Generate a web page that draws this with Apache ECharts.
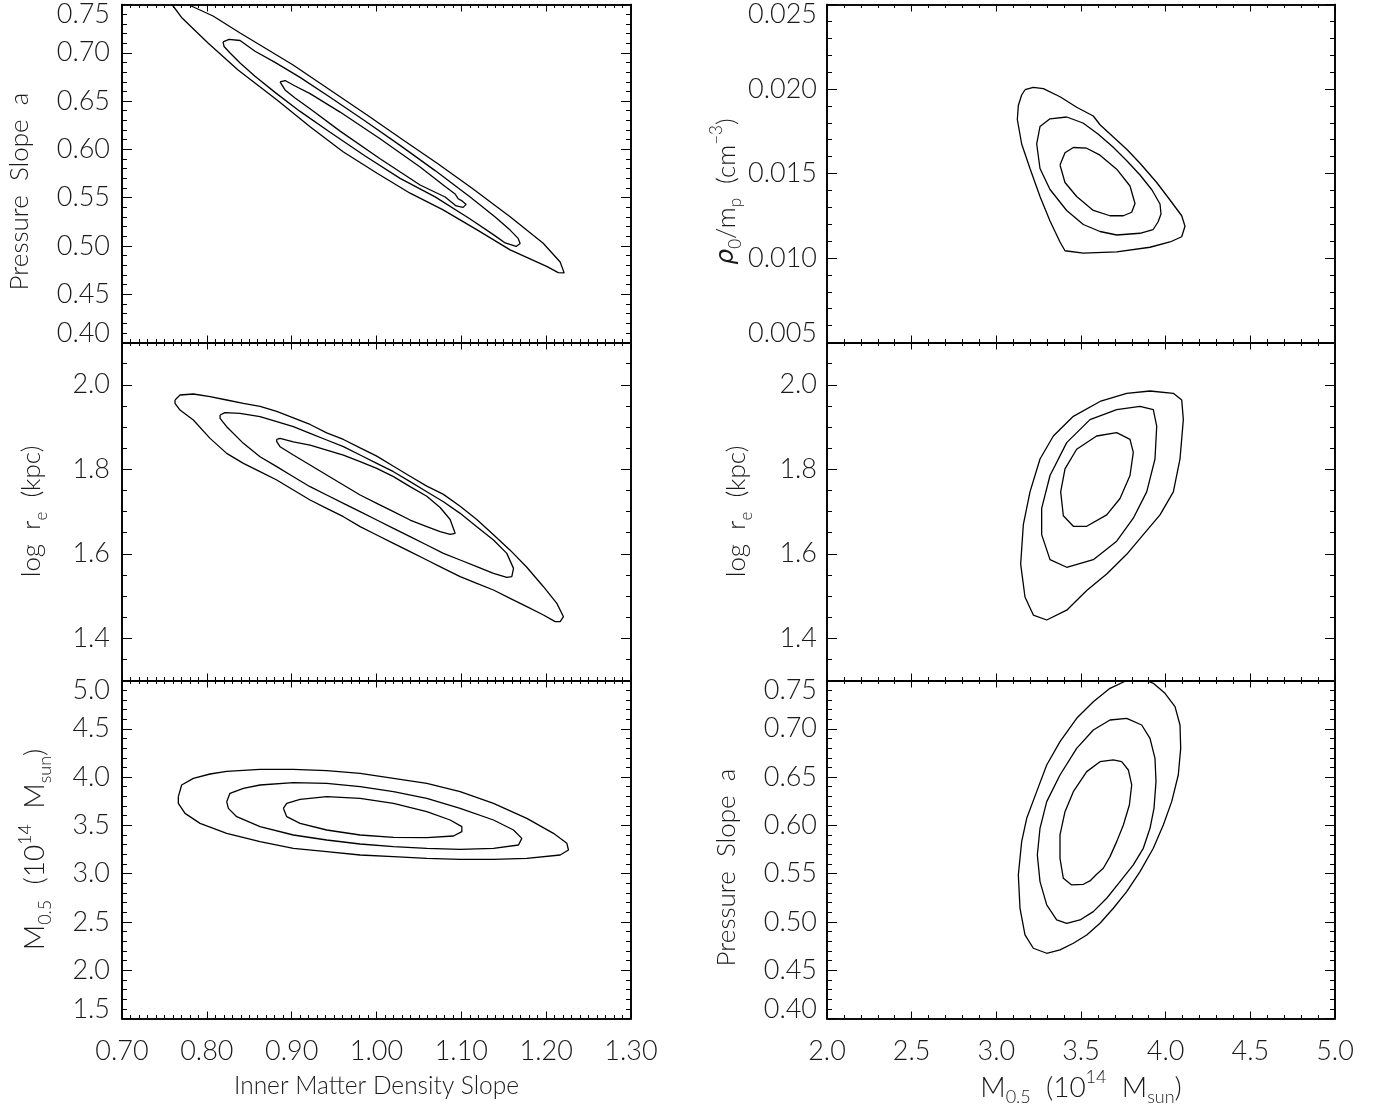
<!DOCTYPE html>
<html>
<head>
<meta charset="utf-8">
<title>Parameter contours</title>
<script src="https://cdn.jsdelivr.net/npm/echarts@6/dist/echarts.min.js"></script>
<style>
html, body { margin: 0; padding: 0; background: #fff; }
#chart { width: 1377px; height: 1110px; }
</style>
</head>
<body>
<div id="chart"></div>
<script>
var chart = echarts.init(document.getElementById('chart'));

/* tick values */
var slopeTicks = [0.70, 0.80, 0.90, 1.00, 1.10, 1.20, 1.30];
var massTicks = [2.0, 2.5, 3.0, 3.5, 4.0, 4.5, 5.0];
var alphaTicks = [0.40, 0.45, 0.50, 0.55, 0.60, 0.65, 0.70, 0.75];
var logReTicks = [1.4, 1.6, 1.8, 2.0];
var massYTicks = [1.5, 2.0, 2.5, 3.0, 3.5, 4.0, 4.5, 5.0];
var rhoTicks = [0.005, 0.010, 0.015, 0.020, 0.025];

/* contours, [x, y] */
// inner slope vs pressure slope
var slopeAlphaOut = [[0.7590,0.7500],[0.7708,0.7360],[0.8014,0.7101],[0.8368,0.6822],[0.8828,0.6511],[0.9217,0.6235],[0.9606,0.5976],[1.0007,0.5753],[1.0396,0.5546],[1.0785,0.5373],[1.1186,0.5166],[1.1575,0.4959],[1.2012,0.4786],[1.2142,0.4724],[1.2212,0.4721],[1.2165,0.4834],[1.1965,0.5028],[1.1575,0.5303],[1.1127,0.5597],[1.0715,0.5856],[1.0314,0.6097],[0.9889,0.6356],[0.9453,0.6615],[0.9017,0.6874],[0.8627,0.7081],[0.8392,0.7205],[0.8073,0.7381],[0.7778,0.7500]];
var slopeAlphaMid = [[0.8191,0.7112],[0.8262,0.7138],[0.8392,0.7127],[0.8568,0.7016],[0.8804,0.6901],[0.9099,0.6745],[0.9453,0.6539],[0.9866,0.6293],[1.0278,0.6041],[1.0691,0.5780],[1.1104,0.5507],[1.1399,0.5300],[1.1575,0.5164],[1.1670,0.5078],[1.1693,0.5026],[1.1646,0.4995],[1.1517,0.5031],[1.1399,0.5104],[1.1104,0.5279],[1.0691,0.5508],[1.0278,0.5700],[0.9866,0.5931],[0.9453,0.6177],[0.9099,0.6393],[0.8804,0.6590],[0.8568,0.6757],[0.8392,0.6894],[0.8274,0.6998],[0.8203,0.7065]];
var slopeAlphaIn = [[0.8863,0.6698],[0.8922,0.6713],[0.9040,0.6656],[0.9217,0.6577],[0.9571,0.6386],[1.0042,0.6110],[1.0514,0.5818],[1.0809,0.5616],[1.0927,0.5538],[1.0962,0.5489],[1.1009,0.5466],[1.1057,0.5430],[1.1021,0.5399],[1.0939,0.5414],[1.0809,0.5507],[1.0514,0.5631],[1.0042,0.5903],[0.9571,0.6189],[0.9217,0.6421],[0.9040,0.6532],[0.8922,0.6615]];

// inner slope vs log re
var slopeReOut = [[0.7625,1.9639],[0.7684,1.9757],[0.7841,1.9781],[0.8038,1.9718],[0.8234,1.9639],[0.8431,1.9560],[0.8627,1.9490],[0.8824,1.9370],[0.9020,1.9215],[0.9217,1.9060],[0.9413,1.8860],[0.9610,1.8705],[0.9807,1.8505],[1.0003,1.8310],[1.0200,1.8070],[1.0396,1.7835],[1.0593,1.7600],[1.0789,1.7405],[1.0986,1.7125],[1.1182,1.6810],[1.1379,1.6450],[1.1575,1.6085],[1.1772,1.5680],[1.1968,1.5220],[1.2126,1.4826],[1.2204,1.4510],[1.2165,1.4392],[1.2106,1.4392],[1.1968,1.4550],[1.1772,1.4747],[1.1575,1.4944],[1.1379,1.5142],[1.1182,1.5299],[1.0986,1.5457],[1.0789,1.5655],[1.0593,1.5852],[1.0396,1.6049],[1.0200,1.6246],[1.0003,1.6443],[0.9807,1.6641],[0.9610,1.6877],[0.9413,1.7075],[0.9217,1.7272],[0.9020,1.7509],[0.8824,1.7745],[0.8627,1.7942],[0.8431,1.8140],[0.8234,1.8376],[0.8038,1.8731],[0.7841,1.9165],[0.7684,1.9402],[0.7625,1.9560]];
var slopeReMid = [[0.8156,1.9284],[0.8214,1.9339],[0.8391,1.9323],[0.8627,1.9244],[0.8824,1.9126],[0.9020,1.9007],[0.9217,1.8850],[0.9413,1.8692],[0.9610,1.8534],[0.9807,1.8337],[1.0003,1.8140],[1.0200,1.7942],[1.0396,1.7706],[1.0593,1.7469],[1.0789,1.7232],[1.0986,1.6956],[1.1182,1.6641],[1.1379,1.6325],[1.1536,1.6009],[1.1615,1.5654],[1.1595,1.5457],[1.1536,1.5441],[1.1379,1.5536],[1.1182,1.5694],[1.0986,1.5852],[1.0789,1.6009],[1.0593,1.6207],[1.0396,1.6404],[1.0200,1.6601],[1.0003,1.6798],[0.9807,1.6996],[0.9610,1.7193],[0.9413,1.7390],[0.9217,1.7587],[0.9020,1.7824],[0.8824,1.8061],[0.8627,1.8297],[0.8431,1.8613],[0.8234,1.9007],[0.8156,1.9205]];
var slopeReIn = [[0.8824,1.8708],[0.8863,1.8730],[0.9020,1.8650],[0.9217,1.8570],[0.9413,1.8455],[0.9610,1.8335],[0.9807,1.8180],[1.0003,1.8020],[1.0200,1.7825],[1.0396,1.7590],[1.0593,1.7360],[1.0750,1.7095],[1.0868,1.6810],[1.0927,1.6483],[1.0868,1.6459],[1.0750,1.6522],[1.0593,1.6641],[1.0396,1.6798],[1.0200,1.6996],[1.0003,1.7193],[0.9807,1.7390],[0.9610,1.7627],[0.9413,1.7863],[0.9217,1.8100],[0.9020,1.8337],[0.8863,1.8534],[0.8824,1.8652]];

// inner slope vs mass
var slopeMassOut = [[0.7664,3.7970],[0.7703,3.9179],[0.7841,3.9869],[0.8038,4.0318],[0.8234,4.0594],[0.8627,4.0801],[0.9020,4.0801],[0.9413,4.0663],[0.9807,4.0387],[1.0200,3.9869],[1.0593,3.9351],[1.0986,3.8488],[1.1379,3.7280],[1.1772,3.5727],[1.2086,3.4173],[1.2244,3.3138],[1.2263,3.2447],[1.2165,3.1930],[1.1772,3.1584],[1.1379,3.1481],[1.0986,3.1481],[1.0593,3.1584],[1.0200,3.1757],[0.9807,3.1930],[0.9413,3.2275],[0.9020,3.2620],[0.8627,3.3310],[0.8234,3.4173],[0.7920,3.5209],[0.7743,3.6244],[0.7664,3.7280]];
var slopeMassMid = [[0.8234,3.7453],[0.8273,3.8316],[0.8431,3.8833],[0.8627,3.9179],[0.9020,3.9420],[0.9413,3.9351],[0.9807,3.9006],[1.0200,3.8488],[1.0593,3.7798],[1.0986,3.6762],[1.1379,3.5554],[1.1615,3.4519],[1.1713,3.3656],[1.1674,3.2965],[1.1379,3.2620],[1.0986,3.2516],[1.0593,3.2620],[1.0200,3.2793],[0.9807,3.3069],[0.9413,3.3483],[0.9020,3.4001],[0.8627,3.4864],[0.8352,3.5899],[0.8254,3.6762]];
var slopeMassIn = [[0.8902,3.6762],[0.8942,3.7280],[0.9099,3.7694],[0.9413,3.7970],[0.9807,3.7798],[1.0200,3.7280],[1.0593,3.6417],[1.0868,3.5554],[1.1006,3.4864],[1.1006,3.4346],[1.0907,3.3897],[1.0593,3.3725],[1.0200,3.3759],[0.9807,3.4001],[0.9413,3.4519],[0.9099,3.5209],[0.8942,3.5899]];

// mass vs rho0
var massRhoOut = [[3.1693,0.019956],[3.2185,0.020100],[3.2776,0.020020],[3.3760,0.019541],[3.4744,0.018920],[3.5727,0.018402],[3.6122,0.017885],[3.6909,0.017160],[3.7699,0.016435],[3.8485,0.015607],[3.9471,0.014467],[4.0256,0.013432],[4.0947,0.012500],[4.1142,0.011879],[4.0947,0.011257],[4.0256,0.010947],[3.9075,0.010636],[3.7108,0.010367],[3.5136,0.010284],[3.4055,0.010429],[3.3760,0.010947],[3.3170,0.012189],[3.2579,0.013639],[3.1988,0.015296],[3.1496,0.016746],[3.1240,0.018195],[3.1299,0.019024],[3.1496,0.019645]];
var massRhoMid = [[3.4156,0.018343],[3.5118,0.017988],[3.6004,0.017337],[3.6890,0.016568],[3.7717,0.015740],[3.8485,0.014911],[3.9193,0.014024],[3.9666,0.013195],[3.9725,0.012604],[3.9547,0.012130],[3.9252,0.011672],[3.8485,0.011464],[3.7108,0.011361],[3.6122,0.011568],[3.5136,0.011982],[3.4155,0.012811],[3.3170,0.014053],[3.2579,0.015296],[3.2384,0.016746],[3.2579,0.017781],[3.3170,0.018237]];
var massRhoIn = [[3.3760,0.015503],[3.4055,0.016228],[3.4547,0.016538],[3.5337,0.016497],[3.6122,0.016083],[3.7108,0.015255],[3.7894,0.014260],[3.8189,0.013225],[3.7994,0.012707],[3.7498,0.012500],[3.6713,0.012500],[3.5727,0.012811],[3.4744,0.013639],[3.4055,0.014467]];

// mass vs log re
var massReOut = [[3.6122,1.9604],[3.7699,1.9798],[3.9075,1.9852],[4.0453,1.9798],[4.0947,1.9641],[4.1043,1.9175],[4.0847,1.8243],[4.0453,1.7464],[3.9665,1.6920],[3.8679,1.6453],[3.7699,1.5987],[3.6518,1.5521],[3.5337,1.5130],[3.4155,1.4664],[3.2975,1.4432],[3.2185,1.4548],[3.1693,1.4976],[3.1437,1.5753],[3.1594,1.6688],[3.1988,1.7464],[3.2579,1.8243],[3.3367,1.8787],[3.4547,1.9253]];
var massReMid = [[3.7108,1.9410],[3.8485,1.9488],[3.9270,1.9410],[3.9471,1.9019],[3.9370,1.8243],[3.8880,1.7464],[3.8089,1.6841],[3.7108,1.6297],[3.5727,1.5860],[3.4155,1.5680],[3.3170,1.5860],[3.2677,1.6453],[3.2677,1.7076],[3.3170,1.7852],[3.4155,1.8631],[3.5530,1.9175]];
var massReIn = [[3.7108,1.8865],[3.7894,1.8709],[3.8089,1.8399],[3.7894,1.7852],[3.7304,1.7308],[3.6518,1.6920],[3.5337,1.6650],[3.4547,1.6650],[3.3957,1.6900],[3.3800,1.7464],[3.4055,1.8008],[3.4744,1.8474],[3.5924,1.8787]];

// mass vs pressure slope
var massAlphaOut = [[3.7699,0.7500],[3.6713,0.74189],[3.5727,0.72808],[3.4744,0.71083],[3.3760,0.68668],[3.2975,0.66252],[3.2382,0.63492],[3.1794,0.60731],[3.1496,0.58316],[3.1299,0.54865],[3.1398,0.51414],[3.1693,0.48654],[3.2185,0.47273],[3.2975,0.46756],[3.3760,0.47101],[3.4547,0.47791],[3.5337,0.48654],[3.6122,0.49861],[3.6909,0.51414],[3.7699,0.53139],[3.8485,0.55210],[3.9270,0.57625],[3.9860,0.60041],[4.0356,0.62456],[4.0745,0.65217],[4.0887,0.67977],[4.0847,0.70393],[4.0552,0.72291],[3.9961,0.73671],[3.9270,0.74706],[3.8880,0.7500]];
var massAlphaMid = [[3.7699,0.71083],[3.6713,0.70910],[3.5727,0.69875],[3.4744,0.67977],[3.3760,0.65217],[3.2975,0.62456],[3.2579,0.59696],[3.2421,0.56936],[3.2579,0.54175],[3.2975,0.51760],[3.3563,0.50207],[3.4155,0.49861],[3.4941,0.50207],[3.5727,0.51069],[3.6518,0.52450],[3.7304,0.54175],[3.8089,0.55900],[3.8679,0.57625],[3.9075,0.59696],[3.9311,0.61766],[3.9429,0.64527],[3.9370,0.66942],[3.9075,0.69012],[3.8584,0.70393]];
var massAlphaIn = [[3.6909,0.66770],[3.6122,0.66597],[3.5337,0.65562],[3.4547,0.63492],[3.4055,0.61421],[3.3760,0.59006],[3.3760,0.56591],[3.3957,0.54520],[3.4449,0.53830],[3.5136,0.53899],[3.5530,0.54244],[3.5924,0.54934],[3.6318,0.55555],[3.6713,0.56763],[3.7108,0.58316],[3.7502,0.60041],[3.7856,0.62111],[3.7994,0.64182],[3.7797,0.65735],[3.7403,0.66597]];

var FONT = 'Lato';
var TXT = '#1a1a1a';
function richSet(size) {
    var small = Math.round(size * 0.64);
    return {
        n: { fontFamily: FONT, fontWeight: 300, fontSize: size, color: TXT, lineHeight: size + 10, verticalAlign: 'middle' },
        sub: { fontFamily: FONT, fontWeight: 300, fontSize: small, color: TXT, lineHeight: small, verticalAlign: 'bottom' },
        sup: { fontFamily: FONT, fontWeight: 300, fontSize: small, color: TXT, lineHeight: small, verticalAlign: 'top' },
        g: { fontFamily: 'DejaVu Sans', fontStyle: 'italic', fontSize: size - 1, color: TXT, lineHeight: size + 10, verticalAlign: 'middle' }
    };
}
var labelRich = {
    hi: { fontFamily: FONT, fontWeight: 300, fontSize: 27, color: TXT, padding: [20, 0, 0, 0] },
    lo: { fontFamily: FONT, fontWeight: 300, fontSize: 27, color: TXT, padding: [0, 0, 18, 0] }
};

var nameAlpha = '{n|Pressure  Slope  a}';
var nameRe = '{n|log  r}{sub|e}{n|  (kpc)}';
var nameMass = '{n|M}{sub|0.5}{n|  (10}{sup|14}{n|  M}{sub|sun}{n|)}';
var nameRho = '{g|ρ}{sub|0}{n|/m}{sub|p}{n|  (cm}{sup|−3}{n|)}';
var nameSlope = '{n|Inner Matter Density Slope}';

var colLeft = [122, 827], colWidth = [509, 508];
var rowTop = [4.5, 342.5, 680.5], rowHeight = 338;

var panels = [
    { col: 0, row: 0, x: [0.7, 1.3], xMinor: 0.01, xTicks: slopeTicks, xDig: 2, y: [0.40, 0.75], yMinor: 0.01, yTicks: alphaTicks, yDig: 2, yName: nameAlpha, ySize: 26, yGap: 84, yPad: [0, 36, 0, 0], lines: [slopeAlphaOut, slopeAlphaMid, slopeAlphaIn], open: [true, false, false] },
    { col: 0, row: 1, x: [0.7, 1.3], xMinor: 0.01, xTicks: slopeTicks, xDig: 2, y: [1.3, 2.1], yMinor: 0.05, yTicks: logReTicks, yDig: 1, yName: nameRe, ySize: 26, yGap: 72, lines: [slopeReOut, slopeReMid, slopeReIn] },
    { col: 0, row: 2, x: [0.7, 1.3], xMinor: 0.01, xTicks: slopeTicks, xDig: 2, y: [1.5, 5.0], yMinor: 0.1, yTicks: massYTicks, yDig: 1, yName: nameMass, ySize: 28, yGap: 68, xName: nameSlope, xSize: 24.5, lines: [slopeMassOut, slopeMassMid, slopeMassIn] },
    { col: 1, row: 0, x: [2.0, 5.0], xMinor: 0.1, xTicks: massTicks, xDig: 1, y: [0.005, 0.025], yMinor: 0.001, yTicks: rhoTicks, yDig: 3, yName: nameRho, ySize: 26, yGap: 80, yPad: [0, 36, 0, 0], lines: [massRhoOut, massRhoMid, massRhoIn] },
    { col: 1, row: 1, x: [2.0, 5.0], xMinor: 0.1, xTicks: massTicks, xDig: 1, y: [1.3, 2.1], yMinor: 0.05, yTicks: logReTicks, yDig: 1, yName: nameRe, ySize: 26, yGap: 72, lines: [massReOut, massReMid, massReIn] },
    { col: 1, row: 2, x: [2.0, 5.0], xMinor: 0.1, xTicks: massTicks, xDig: 1, y: [0.40, 0.75], yMinor: 0.01, yTicks: alphaTicks, yDig: 2, yName: nameAlpha, ySize: 26, yGap: 82, yPad: [0, 36, 0, 0], xName: nameMass, xSize: 28, lines: [massAlphaOut, massAlphaMid, massAlphaIn], open: [true, false, false] }
];

var axisLine = { show: true, onZero: false, lineStyle: { color: '#000', width: 1.6 } };
var tickStyle = { color: '#000', width: 1 };

function yLabelFormatter(dig, lo, hi) {
    return function (v) {
        var s = v.toFixed(dig);
        if (Math.abs(v - hi) < 1e-9) return '{hi|' + s + '}';
        if (Math.abs(v - lo) < 1e-9) return '{lo|' + s + '}';
        return s;
    };
}
function xLabelFormatter(dig) {
    return function (v) { return v.toFixed(dig); };
}

var grids = [], xAxes = [], yAxes = [], series = [];

panels.forEach(function (p, i) {
    grids.push({
        left: colLeft[p.col], top: rowTop[p.row], width: colWidth[p.col], height: rowHeight,
        containLabel: false, outerBoundsMode: 'none'
    });
    ['bottom', 'top'].forEach(function (pos) {
        // minor ticks
        xAxes.push({
            type: 'value', gridIndex: i, position: pos, min: p.x[0], max: p.x[1], interval: p.xMinor,
            axisLine: axisLine, splitLine: { show: false }, axisLabel: { show: false },
            axisTick: { show: true, inside: true, length: 3.5, lineStyle: tickStyle }
        });
        // major ticks + labels
        var showLab = pos === 'bottom' && p.row === 2;
        var ax = {
            type: 'value', gridIndex: i, position: pos, min: p.x[0], max: p.x[1],
            axisLine: axisLine, splitLine: { show: false },
            axisTick: { show: true, inside: true, length: 7, customValues: p.xTicks, lineStyle: tickStyle },
            axisLabel: {
                show: showLab, customValues: p.xTicks, margin: 19,
                fontFamily: FONT, fontWeight: 300, fontSize: 27, color: TXT,
                formatter: xLabelFormatter(p.xDig)
            }
        };
        if (showLab && p.xName) {
            ax.name = p.xName;
            ax.nameLocation = 'middle';
            ax.nameGap = 50;
            ax.nameTextStyle = { rich: richSet(p.xSize) };
        }
        xAxes.push(ax);
    });
    ['left', 'right'].forEach(function (pos) {
        yAxes.push({
            type: 'value', gridIndex: i, position: pos, min: p.y[0], max: p.y[1], interval: p.yMinor,
            axisLine: axisLine, splitLine: { show: false }, axisLabel: { show: false },
            axisTick: { show: true, inside: true, length: 5, lineStyle: tickStyle }
        });
        var showLab = pos === 'left';
        var ay = {
            type: 'value', gridIndex: i, position: pos, min: p.y[0], max: p.y[1],
            axisLine: axisLine, splitLine: { show: false },
            axisTick: { show: true, inside: true, length: 10, customValues: p.yTicks, lineStyle: tickStyle },
            axisLabel: {
                show: showLab, customValues: p.yTicks, margin: p.col === 0 ? 12 : 10,
                fontFamily: FONT, fontWeight: 300, fontSize: 27, color: TXT,
                formatter: yLabelFormatter(p.yDig, p.y[0], p.y[1]),
                rich: labelRich
            }
        };
        if (showLab) {
            ay.name = p.yName;
            ay.nameLocation = 'middle';
            ay.nameRotate = 90;
            ay.nameGap = p.yGap;
            ay.nameTextStyle = { rich: richSet(p.ySize), padding: p.yPad || 0 };
        }
        yAxes.push(ay);
    });
    p.lines.forEach(function (pts, k) {
        var open = p.open && p.open[k];
        series.push({
            type: 'line', xAxisIndex: 4 * i, yAxisIndex: 4 * i,
            data: open ? pts : pts.concat([pts[0]]),
            symbol: 'none', showSymbol: false, clip: true, silent: true,
            lineStyle: { color: '#000', width: 1.3 }
        });
    });
});

chart.setOption({
    animation: false,
    backgroundColor: '#fff',
    grid: grids,
    xAxis: xAxes,
    yAxis: yAxes,
    series: series
});
</script>
</body>
</html>
